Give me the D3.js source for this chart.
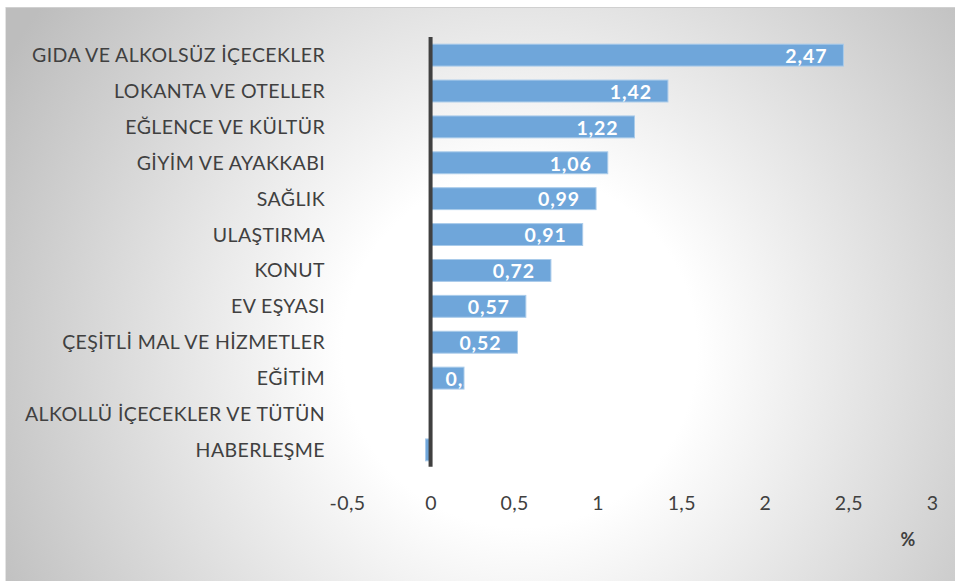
<!DOCTYPE html>
<html>
<head>
<meta charset="utf-8">
<script src="https://cdn.jsdelivr.net/npm/d3@7"></script>
<style>
  body { margin: 0; background: #fff; }
  svg text { font-family: Lato, "Open Sans", sans-serif; }
</style>
</head>
<body>
<div id="chart"></div>
<script>
const categories = [
  'GIDA VE ALKOLSÜZ İÇECEKLER',
  'LOKANTA VE OTELLER',
  'EĞLENCE VE KÜLTÜR',
  'GİYİM VE AYAKKABI ',
  'SAĞLIK',
  'ULAŞTIRMA',
  'KONUT',
  'EV EŞYASI',
  'ÇEŞİTLİ MAL VE HİZMETLER',
  'EĞİTİM ',
  'ALKOLLÜ İÇECEKLER VE TÜTÜN',
  'HABERLEŞME'
];
const values = [2.47, 1.42, 1.22, 1.06, 0.99, 0.91, 0.72, 0.57, 0.52, 0.20, 0.00, -0.03];
const tickValues = [-0.5, 0, 0.5, 1, 1.5, 2, 2.5, 3];
const unitLabel = '%';

const width = 955, height = 581;
const margin = { top: 37, right: 23, bottom: 113, left: 347 };
const fmt = v => d3.format('.2f')(v).replace('.', ',');
const tickFmt = v => String(v).replace('.', ',');

const svg = d3.select('#chart').append('svg')
  .attr('width', width)
  .attr('height', height);

const defs = svg.append('defs');
const grad = defs.append('radialGradient')
  .attr('id', 'bg')
  .attr('gradientUnits', 'userSpaceOnUse')
  .attr('cx', 520).attr('cy', 350).attr('r', 590);
grad.append('stop').attr('offset', '0').attr('stop-color', '#ffffff');
grad.append('stop').attr('offset', '0.3').attr('stop-color', '#ffffff');
grad.append('stop').attr('offset', '1').attr('stop-color', '#bdbdbd');

svg.append('rect')
  .attr('x', 5).attr('y', 7)
  .attr('width', width - 5).attr('height', height - 7)
  .attr('fill', 'url(#bg)');
svg.append('line')
  .attr('x1', 5).attr('x2', width).attr('y1', 7.5).attr('y2', 7.5)
  .attr('stroke', '#d0d0d0');
svg.append('line')
  .attr('x1', 5.5).attr('x2', 5.5).attr('y1', 7).attr('y2', height)
  .attr('stroke', '#e4e4e4');

const x = d3.scaleLinear()
  .domain([-0.5, 3])
  .range([margin.left, width - margin.right]);
const y = d3.scaleBand()
  .domain(categories)
  .range([margin.top, height - margin.bottom])
  .paddingInner(0.39)
  .paddingOuter(0.2);

const g = svg.append('g');

// category labels
g.selectAll('.cat')
  .data(categories)
  .enter()
  .append('text')
  .attr('class', 'cat')
  .attr('x', 325)
  .attr('y', d => y(d) + y.bandwidth() / 2)
  .attr('dy', '0.36em')
  .attr('text-anchor', 'end')
  .attr('fill', '#404040')
  .style('font-size', '19.5px')
  .style('letter-spacing', '0.4px')
  .text(d => d.trimEnd());

// bars
const rows = categories.map((c, i) => ({ cat: c, value: values[i], i }));

rows.forEach(d => {
  defs.append('clipPath').attr('id', 'clip' + d.i)
    .append('rect')
    .attr('x', Math.min(x(0), x(d.value)))
    .attr('y', y(d.cat))
    .attr('width', Math.abs(x(d.value) - x(0)))
    .attr('height', y.bandwidth());
});

g.selectAll('.bar')
  .data(rows.filter(d => d.value !== 0))
  .enter()
  .append('rect')
  .attr('class', 'bar')
  .attr('x', d => Math.min(x(0), x(d.value)))
  .attr('y', d => y(d.cat))
  .attr('width', d => Math.abs(x(d.value) - x(0)))
  .attr('height', y.bandwidth())
  .attr('fill', '#6fa6da')
  .attr('stroke', '#a9cbea')
  .attr('stroke-width', 1);

// value labels (inside end, clipped to the bar)
g.selectAll('.val')
  .data(rows.filter(d => d.value > 0))
  .enter()
  .append('text')
  .attr('class', 'val')
  .attr('clip-path', d => `url(#clip${d.i})`)
  .attr('x', d => Math.max(x(d.value) - 16, x(0) + 57))
  .attr('y', d => y(d.cat) + y.bandwidth() / 2)
  .attr('dy', '0.4em')
  .attr('text-anchor', 'end')
  .attr('fill', '#ffffff')
  .style('font-size', '19.5px')
  .style('letter-spacing', '0.9px')
  .style('font-weight', 'bold')
  .text(d => fmt(d.value));

// zero line
g.append('line')
  .attr('x1', x(0)).attr('x2', x(0))
  .attr('y1', margin.top).attr('y2', y(categories[categories.length - 1]) + y.bandwidth() + 6)
  .attr('stroke', '#404040')
  .attr('stroke-width', 4);

// x axis
const axis = g.append('g')
  .attr('transform', `translate(0,${height - margin.bottom})`)
  .call(d3.axisBottom(x).tickValues(tickValues).tickFormat(tickFmt).tickSize(0).tickPadding(28));
axis.select('.domain').remove();
axis.selectAll('text')
  .attr('fill', '#404040')
  .style('font-size', '19.5px')
  .style('letter-spacing', '0.4px')
  .style('font-family', 'Lato, sans-serif');

g.append('text')
  .attr('x', 908)
  .attr('y', 546)
  .attr('text-anchor', 'middle')
  .attr('fill', '#404040')
  .style('font-size', '18px')
  .style('font-weight', 'bold')
  .text(unitLabel);
</script>
</body>
</html>
